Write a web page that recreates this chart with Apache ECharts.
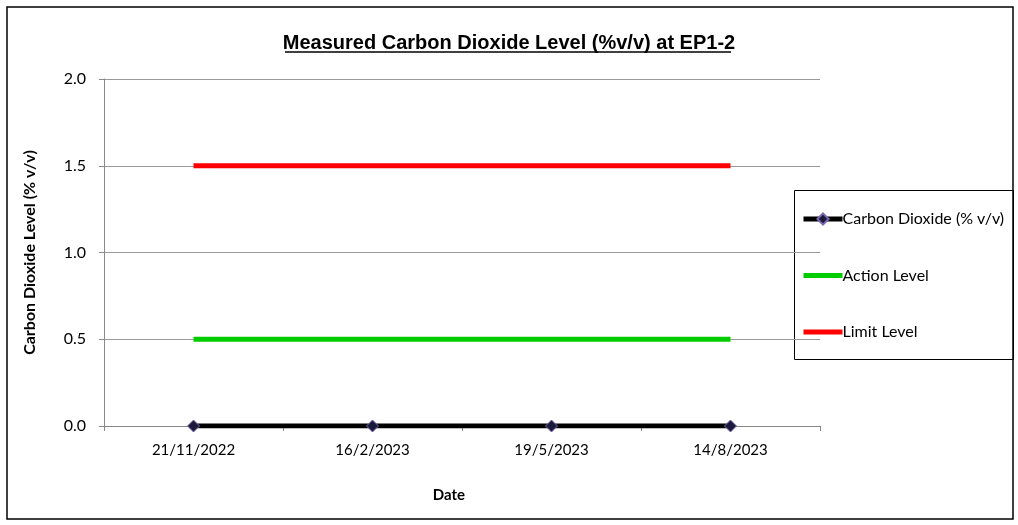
<!DOCTYPE html>
<html>
<head>
<meta charset="utf-8">
<script src="https://cdn.jsdelivr.net/npm/echarts@6/dist/echarts.min.js"></script>
<style>
  html, body { margin: 0; padding: 0; background: #fff; }
  #chart { width: 1018px; height: 525px; }
</style>
</head>
<body>
<div id="chart"></div>
<script>
// data
const dates = ['21/11/2022', '16/2/2023', '19/5/2023', '14/8/2023']
const co2 = [0, 0, 0, 0]
const actionLevel = [0.5, 0.5, 0.5, 0.5]
const limitLevel = [1.5, 1.5, 1.5, 1.5]

const chart = echarts.init(document.getElementById('chart'))
const labelFont = 'Lato'
// flat bar icon, the two empty moves keep the full item height
const lineIcon = 'path://M0,0 L0,0 M0,4.5 L39,4.5 L39,9.5 L0,9.5 Z M39,14 L39,14'

const option = {
  animation: false,
  title: {
    text: 'Measured Carbon Dioxide Level (%v/v) at EP1-2',
    left: 'center',
    top: 28,
    textStyle: { fontFamily: 'Liberation Sans', fontWeight: 'bold', fontSize: 20, color: '#000' }
  },
  graphic: [
    // outer frame
    { type: 'rect', shape: { x: 7, y: 7, width: 1006, height: 512 }, style: { fill: 'none', stroke: '#000', lineWidth: 1.5 }, silent: true },
    // title underline
    { type: 'line', shape: { x1: 285, y1: 52, x2: 731, y2: 52 }, style: { stroke: '#000', lineWidth: 1.5 }, silent: true },
    // legend box
    { type: 'rect', shape: { x: 794.5, y: 190.5, width: 219, height: 169 }, style: { fill: '#fff', stroke: '#000', lineWidth: 1 }, z: -1, silent: true }
  ],
  legend: {
    orient: 'vertical',
    left: 796,
    top: 206,
    itemWidth: 39,
    itemHeight: 14,
    itemGap: 40.5,
    textStyle: { fontFamily: labelFont, fontSize: 16, color: '#000', padding: [0, 0, 0, -5] },
    data: [
      { name: 'Carbon Dioxide (% v/v)', lineStyle: { width: 5 } },
      { name: 'Action Level', icon: lineIcon },
      { name: 'Limit Level', icon: lineIcon }
    ]
  },
  grid: { left: 104, right: 198, top: 79, bottom: 99 },
  xAxis: {
    type: 'category',
    data: dates,
    boundaryGap: true,
    name: 'Date',
    nameLocation: 'middle',
    nameGap: 62,
    nameTextStyle: { fontFamily: labelFont, fontWeight: 'bold', fontSize: 15, color: '#000', padding: [0, 26, 0, 0] },
    axisLine: { lineStyle: { color: '#888', width: 1 } },
    axisTick: { show: true, length: 5, lineStyle: { color: '#888' } },
    axisLabel: { fontFamily: labelFont, fontSize: 15, color: '#000', margin: 17 }
  },
  yAxis: {
    type: 'value',
    min: 0,
    max: 2,
    interval: 0.5,
    name: 'Carbon Dioxide Level (% v/v)',
    nameLocation: 'middle',
    nameGap: 66,
    nameRotate: 90,
    nameTextStyle: { fontFamily: labelFont, fontWeight: 'bold', fontSize: 16, color: '#000' },
    axisLine: { show: true, lineStyle: { color: '#888', width: 1 } },
    axisTick: { show: true, length: 5, lineStyle: { color: '#888' } },
    axisLabel: { fontFamily: labelFont, fontSize: 16, color: '#000', margin: 18, formatter: v => v.toFixed(1) },
    splitLine: { show: true, lineStyle: { color: '#999', width: 1 } }
  },
  series: [
    {
      name: 'Limit Level',
      type: 'line',
      data: limitLevel,
      symbol: 'none',
      lineStyle: { color: '#ff0000', width: 5 },
      itemStyle: { color: '#ff0000' },
      z: 2
    },
    {
      name: 'Action Level',
      type: 'line',
      data: actionLevel,
      symbol: 'none',
      lineStyle: { color: '#00cc00', width: 5 },
      itemStyle: { color: '#00cc00' },
      z: 2
    },
    {
      name: 'Carbon Dioxide (% v/v)',
      type: 'line',
      data: co2,
      symbol: 'diamond',
      symbolSize: 12,
      lineStyle: { color: '#000', width: 5 },
      itemStyle: { color: '#1b1a3a', borderColor: '#7b68b0', borderWidth: 1 },
      z: 3
    }
  ]
}
chart.setOption(option)
</script>
</body>
</html>
